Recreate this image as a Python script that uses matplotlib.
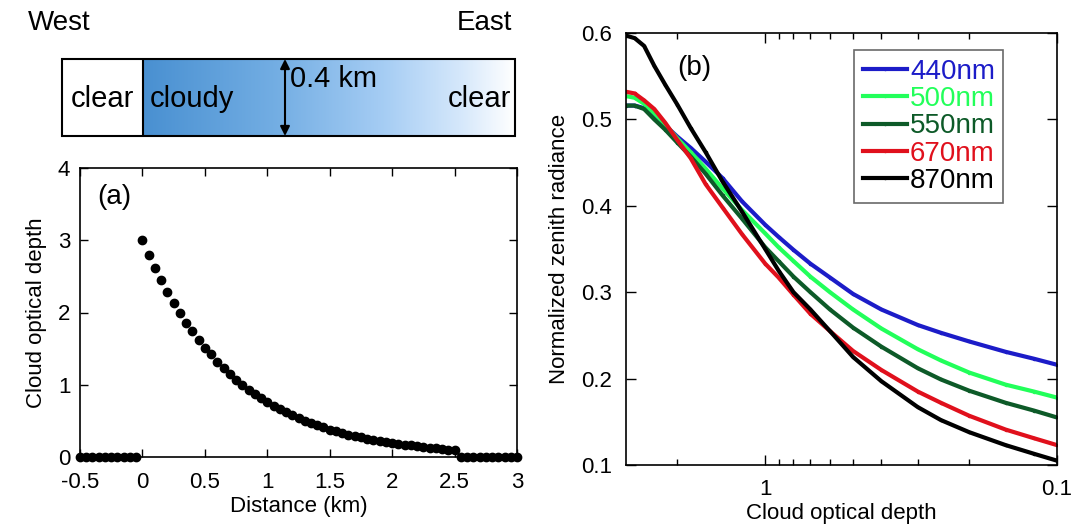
import matplotlib.pyplot as plt
import numpy as np
from matplotlib.colors import LinearSegmentedColormap
from matplotlib.patches import Rectangle

plt.rcParams['font.family'] = ['Liberation Sans', 'DejaVu Sans']

# panel (a): optical depth along the west-east transect
distance_km = [-0.5, -0.45, -0.4, -0.35, -0.3, -0.25, -0.2, -0.15, -0.1, -0.05,
               0.0, 0.05, 0.1, 0.15, 0.2, 0.25, 0.3, 0.35, 0.4, 0.45,
               0.5, 0.55, 0.6, 0.65, 0.7, 0.75, 0.8, 0.85, 0.9, 0.95,
               1.0, 1.05, 1.1, 1.15, 1.2, 1.25, 1.3, 1.35, 1.4, 1.45,
               1.5, 1.55, 1.6, 1.65, 1.7, 1.75, 1.8, 1.85, 1.9, 1.95,
               2.0, 2.05, 2.1, 2.15, 2.2, 2.25, 2.3, 2.35, 2.4, 2.45,
               2.5, 2.55, 2.6, 2.65, 2.7, 2.75, 2.8, 2.85, 2.9, 2.95, 3.0]
optical_depth = [0, 0, 0, 0, 0, 0, 0, 0, 0, 0,
                 3.00, 2.80, 2.62, 2.45, 2.29, 2.13, 1.99, 1.86, 1.74, 1.62,
                 1.51, 1.42, 1.32, 1.23, 1.15, 1.07, 1.00, 0.93, 0.87, 0.81,
                 0.76, 0.71, 0.66, 0.62, 0.58, 0.54, 0.50, 0.47, 0.44, 0.41,
                 0.38, 0.36, 0.33, 0.31, 0.29, 0.27, 0.255, 0.24, 0.225, 0.21,
                 0.195, 0.18, 0.17, 0.16, 0.15, 0.14, 0.13, 0.12, 0.11, 0.10,
                 0.09, 0, 0, 0, 0, 0, 0, 0, 0, 0, 0]

# panel (b): normalized zenith radiance vs cloud optical depth
tau = [3.0, 2.8, 2.6, 2.4, 2.2, 2.0, 1.8, 1.6, 1.4, 1.2, 1.0, 0.9, 0.8, 0.7,
       0.6, 0.5, 0.4, 0.3, 0.25, 0.2, 0.15, 0.12, 0.1]
rad_440 = [0.516, 0.516, 0.513, 0.503, 0.493, 0.480, 0.467, 0.451, 0.432, 0.405,
           0.378, 0.364, 0.349, 0.333, 0.317, 0.298, 0.280, 0.262, 0.253, 0.243,
           0.231, 0.223, 0.216]
rad_500 = [0.527, 0.525, 0.518, 0.507, 0.494, 0.478, 0.462, 0.443, 0.420, 0.395,
           0.368, 0.352, 0.336, 0.318, 0.300, 0.280, 0.258, 0.234, 0.221, 0.207,
           0.193, 0.185, 0.178]
rad_550 = [0.516, 0.516, 0.512, 0.500, 0.488, 0.473, 0.457, 0.437, 0.412, 0.385,
           0.352, 0.336, 0.318, 0.300, 0.280, 0.259, 0.237, 0.212, 0.199, 0.186,
           0.172, 0.163, 0.155]
rad_670 = [0.532, 0.530, 0.522, 0.512, 0.496, 0.476, 0.455, 0.425, 0.398, 0.367,
           0.333, 0.317, 0.297, 0.275, 0.255, 0.232, 0.210, 0.185, 0.172, 0.157,
           0.141, 0.131, 0.123]
rad_870 = [0.597, 0.594, 0.585, 0.562, 0.540, 0.517, 0.490, 0.462, 0.428, 0.393,
           0.350, 0.325, 0.300, 0.280, 0.255, 0.225, 0.197, 0.167, 0.152, 0.138,
           0.123, 0.113, 0.105]
wavelengths = ['440nm', '500nm', '550nm', '670nm', '870nm']
colors = ['#1c1cc8', '#22ff5a', '#0d5a28', '#e0101c', '#000000']

fig = plt.figure(figsize=(10.78, 5.24), dpi=100)

# --- schematic of the cloud field ---
ax_s = fig.add_axes([62 / 1078, (524 - 136) / 524, 453 / 1078, 77 / 524])
ax_s.set_xlim(0, 453)
ax_s.set_ylim(0, 1)
ax_s.axis('off')
grad = LinearSegmentedColormap.from_list(
    'cloud', [(0.0, '#4990d1'), (0.35, '#72ade3'), (0.65, '#a6cdf4'),
              (0.85, '#d4e7fb'), (1.0, '#ffffff')])
ax_s.imshow(np.linspace(0, 1, 256)[None, :], cmap=grad, aspect='auto',
            extent=(81, 453, 0, 1))
ax_s.add_patch(Rectangle((0, 0), 453, 1, fill=False, lw=1.5, ec='k', clip_on=False))
ax_s.plot([81, 81], [0, 1], color='k', lw=1.5)
ax_s.annotate('', xy=(223, 1), xytext=(223, 0),
              arrowprops=dict(arrowstyle='<|-|>', lw=1.5, color='k',
                              mutation_scale=14, shrinkA=0, shrinkB=0))
ax_s.text(40, 0.48, 'clear', fontsize=21, ha='center', va='center')
ax_s.text(88, 0.48, 'cloudy', fontsize=21, ha='left', va='center')
ax_s.text(228, 0.74, '0.4 km', fontsize=21, ha='left', va='center')
ax_s.text(449, 0.48, 'clear', fontsize=21, ha='right', va='center')
fig.text(28 / 1078, 1 - 23 / 524, 'West', fontsize=20, ha='left', va='center')
fig.text(512 / 1078, 1 - 23 / 524, 'East', fontsize=20, ha='right', va='center')

# --- panel (a) ---
ax_a = fig.add_axes([80 / 1078, (524 - 457) / 524, 437 / 1078, 289 / 524])
ax_a.plot(distance_km, optical_depth, 'o', color='k', ms=6, clip_on=False)
ax_a.set_xlim(-0.5, 3)
ax_a.set_ylim(0, 4)
ax_a.set_xticks([-0.5, 0, 0.5, 1, 1.5, 2, 2.5, 3])
ax_a.set_xticklabels(['-0.5', '0', '0.5', '1', '1.5', '2', '2.5', '3'])
ax_a.set_yticks([0, 1, 2, 3, 4])
ax_a.set_yticklabels(['0', '1', '2', '3', '4'])
ax_a.tick_params(direction='in', top=True, right=True, length=6, width=1,
                 labelsize=16)
ax_a.tick_params(axis='x', pad=11)
ax_a.tick_params(axis='y', pad=7)
ax_a.set_xlabel('Distance (km)', fontsize=16, labelpad=2)
ax_a.set_ylabel('Cloud optical depth', fontsize=16, labelpad=8)
ax_a.text(0.04, 0.9, '(a)', transform=ax_a.transAxes, fontsize=20,
          ha='left', va='center')

# --- panel (b) ---
ax_b = fig.add_axes([626 / 1078, (524 - 465) / 524, 431 / 1078, 432 / 524])
for rad, lab, col in zip([rad_440, rad_500, rad_550, rad_670, rad_870],
                         wavelengths, colors):
    ax_b.plot(tau, rad, color=col, lw=3, marker='.', ms=3, label=lab)
ax_b.set_xscale('log')
ax_b.set_xlim(3, 0.1)
ax_b.set_ylim(0.1, 0.6)
ax_b.set_xticks([1, 0.1])
ax_b.set_xticklabels(['1', '0.1'])
ax_b.set_xticks([2, 0.9, 0.8, 0.7, 0.6, 0.5, 0.4, 0.3, 0.2], minor=True)
ax_b.set_xticklabels([], minor=True)
ax_b.set_yticks([0.1, 0.2, 0.3, 0.4, 0.5, 0.6])
ax_b.set_yticklabels(['0.1', '0.2', '0.3', '0.4', '0.5', '0.6'])
ax_b.tick_params(which='both', direction='in', top=True, right=True, width=1,
                 labelsize=16)
ax_b.tick_params(axis='x', which='both', pad=10)
ax_b.tick_params(axis='y', pad=10)
ax_b.tick_params(which='major', length=7)
ax_b.tick_params(which='minor', length=4)
ax_b.set_xlabel('Cloud optical depth', fontsize=16, labelpad=2)
ax_b.set_ylabel('Normalized zenith radiance', fontsize=16, labelpad=8)
ax_b.text(0.12, 0.92, '(b)', transform=ax_b.transAxes, fontsize=20,
          ha='left', va='center')
leg = ax_b.legend(loc='upper left', bbox_to_anchor=(0.53, 0.96), fontsize=20,
                  frameon=True, fancybox=False, edgecolor='#444444',
                  handlelength=1.6, handletextpad=0.1, labelspacing=0.05,
                  borderpad=0.3, numpoints=1, borderaxespad=0)
leg.get_frame().set_linewidth(1.2)
for txt, col in zip(leg.get_texts(), colors):
    txt.set_color(col)

for ax in (ax_a, ax_b):
    for sp in ax.spines.values():
        sp.set_linewidth(1.2)

fig.savefig('out.png', dpi=100)
